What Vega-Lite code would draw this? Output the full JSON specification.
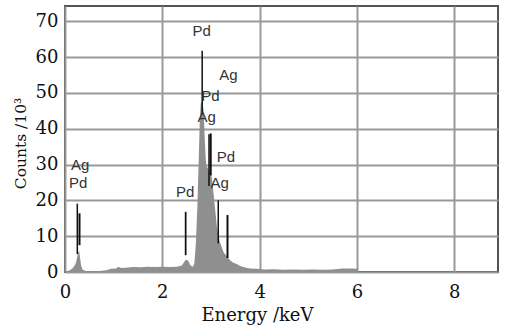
{
  "$schema": "https://vega.github.io/schema/vega-lite/v6.json",
  "width": 433,
  "height": 266,
  "autosize": {"type": "none"},
  "padding": {"left": 65, "top": 6, "right": 11, "bottom": 56},
  "background": "white",
  "config": {
    "view": {"stroke": "#555", "strokeWidth": 2},
    "axis": {
      "grid": true, "gridColor": "#999", "gridWidth": 2,
      "domain": false, "ticks": false, "tickSize": 0, "labelFlush": false, "labelOverlap": false,
      "labelFont": "DejaVu Serif", "labelFontSize": 18, "labelColor": "#111",
      "titleFont": "DejaVu Serif", "titleFontSize": 18, "titleFontWeight": "normal", "titleColor": "#111"
    }
  },
  "datasets": {
    "spectrum": [
      {"e": 0.00, "c": 0}, {"e": 0.05, "c": 0.2}, {"e": 0.10, "c": 0.5}, {"e": 0.15, "c": 1.0},
      {"e": 0.20, "c": 1.8}, {"e": 0.23, "c": 2.8}, {"e": 0.25, "c": 4.2}, {"e": 0.27, "c": 5.5},
      {"e": 0.29, "c": 6.0}, {"e": 0.31, "c": 4.0}, {"e": 0.33, "c": 1.8}, {"e": 0.36, "c": 0.7},
      {"e": 0.42, "c": 0.3}, {"e": 0.55, "c": 0.2}, {"e": 0.70, "c": 0.3}, {"e": 0.85, "c": 0.5},
      {"e": 0.95, "c": 0.9}, {"e": 1.05, "c": 1.0}, {"e": 1.10, "c": 1.5}, {"e": 1.15, "c": 1.1},
      {"e": 1.25, "c": 1.2}, {"e": 1.40, "c": 1.4}, {"e": 1.55, "c": 1.3}, {"e": 1.70, "c": 1.5},
      {"e": 1.85, "c": 1.4}, {"e": 2.00, "c": 1.5}, {"e": 2.15, "c": 1.4}, {"e": 2.30, "c": 1.5},
      {"e": 2.40, "c": 1.8}, {"e": 2.44, "c": 2.6}, {"e": 2.48, "c": 3.4}, {"e": 2.53, "c": 3.2},
      {"e": 2.58, "c": 1.8}, {"e": 2.63, "c": 1.5}, {"e": 2.66, "c": 2.5}, {"e": 2.69, "c": 8},
      {"e": 2.72, "c": 18}, {"e": 2.75, "c": 32}, {"e": 2.77, "c": 42}, {"e": 2.79, "c": 47},
      {"e": 2.82, "c": 48}, {"e": 2.85, "c": 45}, {"e": 2.87, "c": 38}, {"e": 2.89, "c": 32},
      {"e": 2.91, "c": 29.5}, {"e": 2.94, "c": 29}, {"e": 2.97, "c": 28}, {"e": 3.00, "c": 28},
      {"e": 3.03, "c": 25}, {"e": 3.06, "c": 21}, {"e": 3.09, "c": 17}, {"e": 3.12, "c": 13},
      {"e": 3.15, "c": 10.5}, {"e": 3.18, "c": 8.5}, {"e": 3.22, "c": 7}, {"e": 3.26, "c": 5.5},
      {"e": 3.30, "c": 4.8}, {"e": 3.35, "c": 4.0}, {"e": 3.40, "c": 3.2}, {"e": 3.46, "c": 2.6},
      {"e": 3.53, "c": 2.2}, {"e": 3.60, "c": 1.7}, {"e": 3.68, "c": 1.3}, {"e": 3.80, "c": 1.0},
      {"e": 3.95, "c": 0.9}, {"e": 4.10, "c": 0.7}, {"e": 4.30, "c": 0.8}, {"e": 4.50, "c": 0.6},
      {"e": 4.70, "c": 0.7}, {"e": 4.90, "c": 0.6}, {"e": 5.10, "c": 0.7}, {"e": 5.30, "c": 0.6},
      {"e": 5.50, "c": 0.7}, {"e": 5.70, "c": 1.0}, {"e": 5.90, "c": 1.0}, {"e": 6.00, "c": 0.9},
      {"e": 6.03, "c": 0}, {"e": 8.90, "c": 0}
    ],
    "lines": [
      {"e": 0.253, "c": 5, "hi": 19.1, "w": "thin"},
      {"e": 0.298, "c": 7.5, "hi": 16.4, "w": "thick"},
      {"e": 2.82, "c": 44, "hi": 61.8, "w": "thin"},
      {"e": 2.96, "c": 24, "hi": 38.5, "w": "thin"},
      {"e": 2.995, "c": 27, "hi": 38.7, "w": "thick"},
      {"e": 2.48, "c": 4.7, "hi": 16.8, "w": "medium"},
      {"e": 3.15, "c": 8, "hi": 20, "w": "thin"},
      {"e": 3.34, "c": 3.9, "hi": 15.9, "w": "thick"}
    ],
    "labels": [
      {"e": 2.81, "c": 67.4, "t": "Pd"},
      {"e": 3.36, "c": 54.9, "t": "Ag"},
      {"e": 2.99, "c": 49.3, "t": "Pd"},
      {"e": 2.91, "c": 43.3, "t": "Ag"},
      {"e": 3.31, "c": 32, "t": "Pd"},
      {"e": 3.18, "c": 24.8, "t": "Ag"},
      {"e": 2.47, "c": 22.4, "t": "Pd"},
      {"e": 0.31, "c": 29.9, "t": "Ag"},
      {"e": 0.27, "c": 24.9, "t": "Pd"}
    ]
  },
  "encoding": {
    "x": {"field": "e", "type": "quantitative", "scale": {"domain": [0, 8.9], "nice": false, "zero": false},
      "axis": {"values": [0, 2, 4, 6, 8], "title": "Energy /keV", "labelPadding": 25, "labelBaseline": "alphabetic",
        "titleX": 192, "titleY": 48, "titleBaseline": "alphabetic", "titleAnchor": null, "titleAlign": "center"}},
    "y": {"field": "c", "type": "quantitative", "scale": {"domain": [0, 74.3], "nice": false},
      "axis": {"values": [0, 10, 20, 30, 40, 50, 60, 70], "title": "Counts /10³", "labelPadding": 7, "titleFontSize": 15.5,
        "titleX": -45, "titleY": 137, "titleBaseline": "middle", "titleAlign": "center", "titleAngle": -90}}
  },
  "layer": [
    {
      "data": {"name": "spectrum"},
      "mark": {"type": "area", "color": "#8f8f8f", "interpolate": "linear"}
    },
    {
      "data": {"name": "lines"},
      "mark": {"type": "rule", "color": "#111"},
      "encoding": {
        "y2": {"field": "hi"},
        "strokeWidth": {"field": "w", "type": "nominal", "scale": {"domain": ["thin", "medium", "thick"], "range": [1.5, 2, 3]}, "legend": null}
      }
    },
    {
      "data": {"name": "labels"},
      "mark": {"type": "text", "font": "Liberation Sans", "fontSize": 15, "color": "#333", "baseline": "middle", "align": "center"},
      "encoding": {
        "text": {"field": "t"}
      }
    }
  ]
}
